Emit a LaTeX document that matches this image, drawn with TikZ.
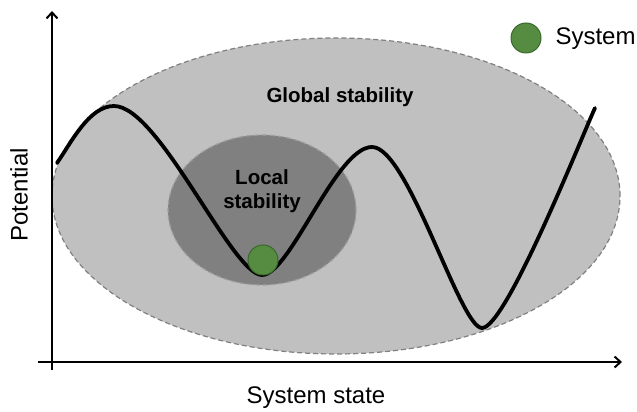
\documentclass[tikz,border=0pt]{standalone}
\usepackage{fontspec}
\setmainfont{Liberation Sans}
\usepackage{tikz}
\usetikzlibrary{calc,arrows.meta}
\definecolor{ballgreen}{RGB}{86,139,66}
\definecolor{balledge}{RGB}{58,105,44}
\definecolor{globalgray}{RGB}{192,192,192}
\definecolor{localgray}{RGB}{128,128,128}

\begin{document}
\begin{tikzpicture}[x=1pt,y=1pt,
    zone/.style={dashed,dash pattern=on 5pt off 3pt,line width=1.2pt},
    ball/.style={circle,fill=ballgreen,draw=balledge,line width=1pt,minimum size=30pt,inner sep=0pt},
    axis/.style={line width=2.2pt,-{Straight Barb[length=6pt,width=11pt,line width=2pt]}},
    lbl/.style={font=\fontsize{24}{28}\selectfont},
    zonelbl/.style={font=\fontsize{20.5}{23.5}\selectfont\bfseries,align=center}]
      \useasboundingbox(0,0)rectangle(637,412);
      \coordinate(O) at (52,50);
      \coordinate(Xlo) at (38,50);
      \coordinate(Xhi) at (622,50);
      \coordinate(Ylo) at (52,42);
      \coordinate(Yhi) at (52,401);

      % stability zones
      \filldraw[zone,fill=globalgray,draw=gray](336,216)ellipse[x radius=284,y radius=158];
      \filldraw[zone,fill=localgray,draw=gray!75](262,202)ellipse[x radius=94,y radius=75];

      % potential landscape
      \coordinate(A) at (57,249);
      \coordinate(P1) at (114,306);
      \coordinate(V1) at (262,137);
      \coordinate(P2) at (372,265);
      \coordinate(V2) at (482,84);
      \coordinate(E) at (595,304);
      \draw[line width=3.8pt,line cap=round](A)to[out=55,in=180,out distance=25,in distance=25](P1)
        to[out=0,in=180,out distance=45,in distance=30](V1)
        to[out=0,in=180,out distance=28,in distance=36](P2)
        to[out=0,in=180,out distance=36,in distance=22](V2)
        to[out=0,in=245,out distance=24,in distance=30](E);

      \node[zonelbl](global) at (340,315){Global stability};
      \node[zonelbl](local) at (262,221){Local\\stability};

      \node[ball](sys) at (263,152){};
      \node[ball](key) at (526,374){};
      \node[lbl,anchor=west](keytxt) at (552,373){System};

      % axes
      \draw[axis](Xlo)--(Xhi);
      \draw[axis](Ylo)--(Yhi);
      \node[lbl](xlbl) at (316,14){System state};
      \node[lbl,rotate=90](ylbl) at (19,217){Potential};
    \end{tikzpicture}
\end{document}
